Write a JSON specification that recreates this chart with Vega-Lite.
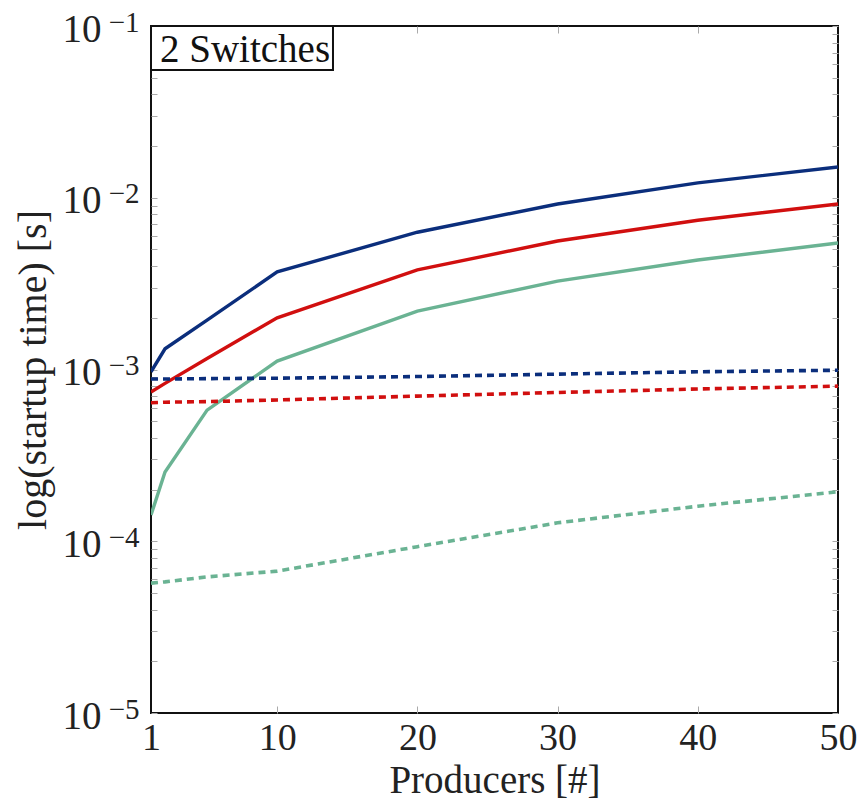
{
  "$schema": "https://vega.github.io/schema/vega-lite/v6.json",
  "width": 687,
  "height": 687,
  "autosize": {"type": "none"},
  "padding": {"left": 151, "top": 26, "right": 21, "bottom": 90},
  "background": "white",
  "config": {
    "font": "Liberation Serif",
    "text": {"font": "Liberation Serif"},
    "view": {"stroke": "#111111", "strokeWidth": 2},
    "axis": {"grid": false, "domain": false, "labelFont": "Liberation Serif", "titleFont": "Liberation Serif", "labelColor": "#222222", "titleColor": "#222222", "titleFontWeight": "normal", "labelFlush": false, "labelOverlap": false, "labelBound": false}
  },
  "datasets": {
    "lines": [
      {"producers": 1, "time": 0.00097, "series": "s1", "kind": "solid"},
      {"producers": 2, "time": 0.00132, "series": "s1", "kind": "solid"},
      {"producers": 5, "time": 0.00194, "series": "s1", "kind": "solid"},
      {"producers": 10, "time": 0.0037, "series": "s1", "kind": "solid"},
      {"producers": 20, "time": 0.0063, "series": "s1", "kind": "solid"},
      {"producers": 30, "time": 0.0092, "series": "s1", "kind": "solid"},
      {"producers": 40, "time": 0.0122, "series": "s1", "kind": "solid"},
      {"producers": 50, "time": 0.0151, "series": "s1", "kind": "solid"},
      {"producers": 1, "time": 0.00074, "series": "s2", "kind": "solid"},
      {"producers": 2, "time": 0.00083, "series": "s2", "kind": "solid"},
      {"producers": 5, "time": 0.00116, "series": "s2", "kind": "solid"},
      {"producers": 10, "time": 0.002, "series": "s2", "kind": "solid"},
      {"producers": 20, "time": 0.0038, "series": "s2", "kind": "solid"},
      {"producers": 30, "time": 0.0056, "series": "s2", "kind": "solid"},
      {"producers": 40, "time": 0.0074, "series": "s2", "kind": "solid"},
      {"producers": 50, "time": 0.0092, "series": "s2", "kind": "solid"},
      {"producers": 1, "time": 0.000142, "series": "s3", "kind": "solid"},
      {"producers": 2, "time": 0.000253, "series": "s3", "kind": "solid"},
      {"producers": 5, "time": 0.00058, "series": "s3", "kind": "solid"},
      {"producers": 10, "time": 0.00112, "series": "s3", "kind": "solid"},
      {"producers": 20, "time": 0.00219, "series": "s3", "kind": "solid"},
      {"producers": 30, "time": 0.00327, "series": "s3", "kind": "solid"},
      {"producers": 40, "time": 0.00434, "series": "s3", "kind": "solid"},
      {"producers": 50, "time": 0.00545, "series": "s3", "kind": "solid"},
      {"producers": 1, "time": 0.00088, "series": "s1", "kind": "dashed"},
      {"producers": 2, "time": 0.00088, "series": "s1", "kind": "dashed"},
      {"producers": 5, "time": 0.000885, "series": "s1", "kind": "dashed"},
      {"producers": 10, "time": 0.00089, "series": "s1", "kind": "dashed"},
      {"producers": 20, "time": 0.00091, "series": "s1", "kind": "dashed"},
      {"producers": 30, "time": 0.00094, "series": "s1", "kind": "dashed"},
      {"producers": 40, "time": 0.00097, "series": "s1", "kind": "dashed"},
      {"producers": 50, "time": 0.00099, "series": "s1", "kind": "dashed"},
      {"producers": 1, "time": 0.00064, "series": "s2", "kind": "dashed"},
      {"producers": 2, "time": 0.000645, "series": "s2", "kind": "dashed"},
      {"producers": 5, "time": 0.00065, "series": "s2", "kind": "dashed"},
      {"producers": 10, "time": 0.000665, "series": "s2", "kind": "dashed"},
      {"producers": 20, "time": 0.0007, "series": "s2", "kind": "dashed"},
      {"producers": 30, "time": 0.000735, "series": "s2", "kind": "dashed"},
      {"producers": 40, "time": 0.00077, "series": "s2", "kind": "dashed"},
      {"producers": 50, "time": 0.0008, "series": "s2", "kind": "dashed"},
      {"producers": 1, "time": 0.000057, "series": "s3", "kind": "dashed"},
      {"producers": 2, "time": 0.000058, "series": "s3", "kind": "dashed"},
      {"producers": 5, "time": 0.000062, "series": "s3", "kind": "dashed"},
      {"producers": 10, "time": 0.000067, "series": "s3", "kind": "dashed"},
      {"producers": 20, "time": 0.000093, "series": "s3", "kind": "dashed"},
      {"producers": 30, "time": 0.000128, "series": "s3", "kind": "dashed"},
      {"producers": 40, "time": 0.00016, "series": "s3", "kind": "dashed"},
      {"producers": 50, "time": 0.000194, "series": "s3", "kind": "dashed"}
    ],
    "note": [
      {"x": 1, "x2": 13.98, "y": 0.1, "y2": 0.0555, "ym": 0.0745, "label": "2 Switches"}
    ]
  },
  "layer": [
    {
      "data": {"name": "lines"},
      "transform": [{"filter": "datum.kind === 'solid'"}],
      "mark": {"type": "line", "strokeWidth": 3.4, "clip": true},
      "encoding": {
        "x": {"field": "producers", "type": "quantitative", "scale": {"domain": [1, 50], "nice": false, "zero": false},
          "axis": {"orient": "bottom", "values": [1, 10, 20, 30, 40, 50], "ticks": false, "labelFontSize": 38, "labelPadding": 6, "labelBaseline": "top", "title": "Producers [#]", "titleFontSize": 39, "titleX": 343.5, "titleY": 67, "titleBaseline": "middle", "titleAlign": "center"}},
        "y": {"field": "time", "type": "quantitative", "scale": {"type": "log", "domain": [0.00001, 0.1], "nice": false},
          "axis": {"orient": "left", "values": [0.00001, 0.0001, 0.001, 0.01, 0.1], "labelExpr": "'10'", "ticks": false, "labelFontSize": 39, "labelPadding": 50, "labelAlign": "right", "labelBaseline": "middle", "labelOffset": 3, "title": "log(startup time) [s]", "titleFontSize": 40, "titleX": -118, "titleY": 343.5, "titleAngle": -90, "titleAlign": "center", "titleBaseline": "middle"}},
        "color": {"field": "series", "type": "nominal", "scale": {"domain": ["s1", "s2", "s3"], "range": ["#0b2e7c", "#d10f0f", "#6ab393"]}, "legend": null},
        "detail": {"field": "series"}
      }
    },
    {
      "data": {"name": "lines"},
      "transform": [{"filter": "datum.kind === 'dashed'"}],
      "mark": {"type": "line", "strokeWidth": 3.6, "strokeDash": [7, 5], "clip": true},
      "encoding": {
        "x": {"field": "producers", "type": "quantitative", "scale": {"domain": [1, 50], "nice": false, "zero": false},
          "axis": {"orient": "bottom", "values": [10, 20, 30, 40], "labels": false, "ticks": true, "tickSize": -7, "tickColor": "#aaaaaa", "tickWidth": 1, "title": null}},
        "y": {"field": "time", "type": "quantitative", "scale": {"type": "log", "domain": [0.00001, 0.1], "nice": false},
          "axis": {"orient": "left", "values": [0.00001, 0.0001, 0.001, 0.01, 0.1], "labelExpr": "datum.value < 0.00002 ? '−5' : datum.value < 0.0002 ? '−4' : datum.value < 0.002 ? '−3' : datum.value < 0.02 ? '−2' : '−1'", "ticks": false, "labelFontSize": 29, "labelPadding": 12, "labelAlign": "right", "labelBaseline": "middle", "labelOffset": -4, "title": null}},
        "color": {"field": "series", "type": "nominal", "scale": {"domain": ["s1", "s2", "s3"], "range": ["#0b2e7c", "#d10f0f", "#6ab393"]}, "legend": null},
        "detail": {"field": "series"}
      }
    },
    {
      "data": {"name": "note"},
      "mark": {"type": "rect", "fill": "white", "stroke": "#111111", "strokeWidth": 2},
      "encoding": {
        "x": {"field": "x", "type": "quantitative", "scale": {"domain": [1, 50], "nice": false, "zero": false},
          "axis": {"orient": "top", "values": [10, 20, 30, 40], "labels": false, "ticks": true, "tickSize": -7, "tickColor": "#aaaaaa", "tickWidth": 1, "title": null}},
        "x2": {"field": "x2"},
        "y": {"field": "y", "type": "quantitative", "scale": {"type": "log", "domain": [0.00001, 0.1], "nice": false},
          "axis": {"orient": "left", "values": [0.00001, 0.00002, 0.00003, 0.00004, 0.00005, 0.00006, 0.00007, 0.00008, 0.00009, 0.0001, 0.0002, 0.0003, 0.0004, 0.0005, 0.0006, 0.0007, 0.0008, 0.0009, 0.001, 0.002, 0.003, 0.004, 0.005, 0.006, 0.007, 0.008, 0.009, 0.01, 0.02, 0.03, 0.04, 0.05, 0.06, 0.07, 0.08, 0.09, 0.1], "labels": false, "ticks": true, "tickSize": -6, "tickColor": "#aaaaaa", "tickWidth": 1, "title": null}},
        "y2": {"field": "y2"}
      }
    },
    {
      "data": {"name": "note"},
      "mark": {"type": "text", "align": "left", "baseline": "middle", "dx": 9, "dy": 2, "fontSize": 39, "font": "Liberation Serif", "color": "#111111"},
      "encoding": {
        "x": {"field": "x", "type": "quantitative", "scale": {"domain": [1, 50], "nice": false, "zero": false}, "axis": null},
        "y": {"field": "ym", "type": "quantitative", "scale": {"type": "log", "domain": [0.00001, 0.1], "nice": false},
          "axis": {"orient": "right", "values": [0.00001, 0.00002, 0.00003, 0.00004, 0.00005, 0.00006, 0.00007, 0.00008, 0.00009, 0.0001, 0.0002, 0.0003, 0.0004, 0.0005, 0.0006, 0.0007, 0.0008, 0.0009, 0.001, 0.002, 0.003, 0.004, 0.005, 0.006, 0.007, 0.008, 0.009, 0.01, 0.02, 0.03, 0.04, 0.05, 0.06, 0.07, 0.08, 0.09, 0.1], "labels": false, "ticks": true, "tickSize": -6, "tickColor": "#aaaaaa", "tickWidth": 1, "title": null}},
        "text": {"field": "label"}
      }
    }
  ],
  "resolve": {"scale": {"x": "shared", "y": "shared"}, "axis": {"x": "independent", "y": "independent"}}
}
